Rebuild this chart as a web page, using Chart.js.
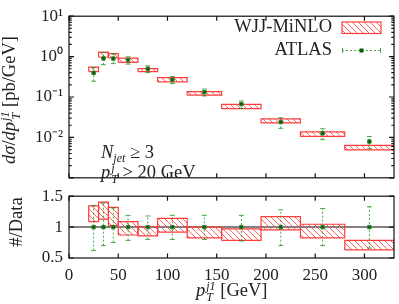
<!DOCTYPE html>
<html lang="en">
<head>
<meta charset="UTF-8">
<title>Leading jet pT, W + 3 jets</title>
<script src="https://cdn.jsdelivr.net/npm/chart.js"></script>
<style>
    body {
        margin: 0;
        width: 399px;
        height: 304px;
        overflow: hidden;
        position: relative;
        background: #fff;
        font-family: 'Liberation Serif', serif;
        color: #222;
    }
    canvas { position: absolute; left: 0; }
    #topChart { top: 0; }
    #ratioChart { top: 180px; }
    .txt {
        position: absolute;
        font-size: 18.5px;
        line-height: 18px;
        white-space: nowrap;
    }
    .ss {
        display: inline-flex;
        flex-direction: column;
        vertical-align: middle;
        font-size: 12px;
        line-height: 11px;
        font-style: italic;
        margin-left: 1px;
    }
    .sub { font-size: 12px; font-style: italic; position: relative; top: 4px; }
    .rot {
        position: absolute;
        width: 220px;
        height: 20px;
        line-height: 20px;
        text-align: center;
        font-size: 18.5px;
        white-space: nowrap;
        transform: rotate(-90deg);
    }
</style>
</head>
<body>
<canvas id="topChart" width="399" height="194"></canvas>
<canvas id="ratioChart" width="399" height="124"></canvas>

<div class="txt" style="right:67px; top:17px;">WJJ-MiNLO</div>
<div class="txt" style="right:67px; top:40px;">ATLAS</div>
<div class="txt" style="left:101px; top:143px;"><i>N</i><span class="sub">jet</span> &ge; 3</div>
<div class="txt" style="left:101px; top:163px;"><i>p</i><span class="ss"><span>j</span><span>T</span></span> &gt; 20 GeV</div>
<div class="rot" style="left:-101px; top:90px;"><i>d&sigma;</i>/<i>dp</i><span class="ss"><span>j1</span><span>T</span></span> [pb/GeV]</div>
<div class="rot" style="left:-94px; top:212px;">#/Data</div>
<div class="txt" style="left:196px; top:281px;"><i>p</i><span class="ss"><span>j1</span><span>T</span></span> [GeV]</div>

<script>
// bins of leading jet pT [GeV]
const binEdges = [20, 30, 40, 50, 70, 90, 120, 155, 195, 235, 280, 330];
const dataX = [25, 35, 45, 60, 80, 105, 137.5, 175, 215, 257.5, 305];

// WJJ-MiNLO band [pb/GeV]
const mcLo = [0.426, 0.965, 0.93, 0.72, 0.426, 0.238, 0.111, 0.0515, 0.0228, 0.0106, 0.00492];
const mcHi = [0.55, 1.285, 1.18, 0.917, 0.505, 0.303, 0.136, 0.0655, 0.0289, 0.01365, 0.00635];

// ATLAS data [pb/GeV]
const atlas = [0.397, 0.9, 0.895, 0.83, 0.5, 0.269, 0.132, 0.067, 0.024, 0.0126, 0.0079];
const atlasLo = [0.246, 0.63, 0.671, 0.652, 0.4, 0.215, 0.106, 0.0519, 0.0168, 0.0088, 0.0052];
const atlasHi = [0.536, 1.25, 1.17, 0.99, 0.59, 0.32, 0.157, 0.0797, 0.0307, 0.0164, 0.0105];

// ratio panel
const ratioLo = [1.088, 1.128, 1.026, 0.872, 0.857, 0.92, 0.825, 0.785, 0.955, 0.825, 0.63];
const ratioHi = [1.343, 1.405, 1.32, 1.088, 1.01, 1.14, 1.0, 0.97, 1.17, 1.046, 0.785];
const ratioErrLo = [0.62, 0.70, 0.75, 0.785, 0.80, 0.80, 0.80, 0.775, 0.70, 0.70, 0.66];
const ratioErrHi = [1.35, 1.39, 1.31, 1.19, 1.18, 1.19, 1.19, 1.19, 1.28, 1.30, 1.33];

const xTicks = [0, 50, 100, 150, 200, 250, 300];
const logLabels = {'1': '10\u00B9', '0': '10\u2070', '-1': '10\u207B\u00B9', '-2': '10\u207B\u00B2'};
const ratioTicks = [0.5, 1, 1.5];

const RED = 'rgb(255,60,60)';
const GREEN = 'rgba(20,140,20,0.75)';
const DARKGREEN = 'rgb(0,95,0)';
const FONT = {family: "'Liberation Serif', serif", size: 17};

function makeHatch(ctx) {
    const c = document.createElement('canvas');
    c.width = 6; c.height = 6;
    const g = c.getContext('2d');
    g.strokeStyle = 'rgba(255,70,70,0.85)';
    g.lineWidth = 1;
    g.beginPath();
    [-6, 0, 6].forEach(k => { g.moveTo(k, 0); g.lineTo(k + 6, 6); });
    g.stroke();
    return ctx.createPattern(c, 'repeat');
}

function boxSets(lo, hi, pattern) {
    return lo.map((l, i) => ({
        data: [
            {x: binEdges[i], y: l}, {x: binEdges[i + 1], y: l},
            {x: binEdges[i + 1], y: hi[i]}, {x: binEdges[i], y: hi[i]},
            {x: binEdges[i], y: l}
        ],
        borderColor: RED, borderWidth: 1.2, backgroundColor: pattern,
        fill: 'shape', pointRadius: 0, tension: 0
    }));
}

function errSets(lo, hi) {
    return dataX.map((x, i) => ({
        data: [{x: x, y: lo[i]}, {x: x, y: hi[i]}],
        borderColor: GREEN, borderWidth: 1, borderDash: [2, 2],
        pointStyle: 'line', pointRadius: 2.5, pointBorderColor: GREEN, pointBorderWidth: 1,
        fill: false
    }));
}

function markerSet(vals) {
    return {
        data: dataX.map((x, i) => ({x: x, y: vals[i]})),
        showLine: false, pointStyle: 'rect', pointRadius: 2.4,
        pointBackgroundColor: DARKGREEN, pointBorderColor: 'rgb(50,130,50)', pointBorderWidth: 1
    };
}

// frame with inward ticks, gnuplot style
const framePlugin = {
    id: 'frame',
    afterDraw(chart, args, opts) {
        const {ctx, chartArea: a, scales} = chart;
        ctx.save();
        ctx.strokeStyle = '#111';
        ctx.lineWidth = 1.2;
        ctx.strokeRect(a.left, a.top, a.right - a.left, a.bottom - a.top);
        ctx.beginPath();
        xTicks.forEach(v => {
            const p = scales.x.getPixelForValue(v);
            ctx.moveTo(p, a.bottom); ctx.lineTo(p, a.bottom - 4.5);
            ctx.moveTo(p, a.top); ctx.lineTo(p, a.top + 4.5);
        });
        opts.yTicks.forEach(([v, len]) => {
            const p = scales.y.getPixelForValue(v);
            ctx.moveTo(a.left, p); ctx.lineTo(a.left + len, p);
            ctx.moveTo(a.right, p); ctx.lineTo(a.right - len, p);
        });
        ctx.stroke();
        ctx.restore();
    }
};

const legendPlugin = {
    id: 'legendSymbols',
    afterDraw(chart, args, opts) {
        const ctx = chart.ctx;
        ctx.save();
        ctx.fillStyle = opts.pattern;
        ctx.fillRect(342, 22, 39, 11.5);
        ctx.strokeStyle = RED; ctx.lineWidth = 1.2;
        ctx.strokeRect(342, 22, 39, 11.5);
        ctx.strokeStyle = GREEN; ctx.lineWidth = 1;
        ctx.setLineDash([2, 2]);
        ctx.beginPath(); ctx.moveTo(342, 50.5); ctx.lineTo(381, 50.5); ctx.stroke();
        ctx.setLineDash([]);
        ctx.beginPath();
        ctx.moveTo(342.5, 48); ctx.lineTo(342.5, 53);
        ctx.moveTo(380.5, 48); ctx.lineTo(380.5, 53);
        ctx.stroke();
        ctx.fillStyle = DARKGREEN;
        ctx.fillRect(359.5, 48.5, 4, 4);
        ctx.restore();
    }
};

const logTickMarks = [];
for (let e = -3; e <= 1; e++) {
    for (let m = 1; m <= 9; m++) {
        const v = m * Math.pow(10, e);
        if (v > 10.0001) break;
        logTickMarks.push([v, m === 1 ? 5 : 2.7]);
    }
}

const topCtx = document.getElementById('topChart').getContext('2d');
const topHatch = makeHatch(topCtx);

new Chart(topCtx, {
    type: 'line',
    data: {
        datasets: [
            markerSet(atlas),
            ...errSets(atlasLo, atlasHi),
            ...boxSets(mcLo, mcHi, topHatch)
        ]
    },
    options: {
        responsive: false,
        animation: false,
        events: [],
        layout: {padding: {top: 12.5, right: 2.3, left: 0, bottom: 0}},
        plugins: {
            legend: {display: false},
            tooltip: {enabled: false},
            frame: {yTicks: logTickMarks},
            legendSymbols: {pattern: topHatch}
        },
        scales: {
            x: {
                type: 'linear', min: 0, max: 330,
                ticks: {display: false},
                grid: {display: false, drawTicks: false},
                border: {display: false},
                afterFit: s => { s.height = 1; }
            },
            y: {
                type: 'logarithmic', min: 0.001, max: 10,
                ticks: {
                    font: FONT, color: '#222', padding: 6, autoSkip: false,
                    callback: v => {
                        const e = Math.round(Math.log10(v));
                        if (Math.abs(v / Math.pow(10, e) - 1) > 1e-6) return '';
                        return logLabels[String(e)] || '';
                    }
                },
                grid: {display: false, drawTicks: false},
                border: {display: false},
                afterFit: s => { s.width = 69; }
            }
        }
    },
    plugins: [framePlugin, legendPlugin]
});

const ratioCtx = document.getElementById('ratioChart').getContext('2d');
const ratioHatch = makeHatch(ratioCtx);

new Chart(ratioCtx, {
    type: 'line',
    data: {
        datasets: [
            markerSet(dataX.map(() => 1)),
            ...errSets(ratioErrLo, ratioErrHi),
            ...boxSets(ratioLo, ratioHi, ratioHatch),
            {
                data: [{x: 0, y: 1}, {x: 330, y: 1}],
                borderColor: 'rgb(130,130,130)', borderWidth: 2, pointRadius: 0, fill: false
            }
        ]
    },
    options: {
        responsive: false,
        animation: false,
        events: [],
        layout: {padding: {top: 13, right: 2.3, left: 0, bottom: 0}},
        plugins: {
            legend: {display: false},
            tooltip: {enabled: false},
            frame: {yTicks: ratioTicks.map(v => [v, 5])}
        },
        scales: {
            x: {
                type: 'linear', min: 0, max: 330,
                ticks: {
                    font: FONT, color: '#222', padding: 7, stepSize: 50,
                    includeBounds: false, maxRotation: 0,
                    callback: v => xTicks.includes(v) ? String(v) : ''
                },
                grid: {display: false, drawTicks: false},
                border: {display: false},
                afterFit: s => { s.height = 46; }
            },
            y: {
                type: 'linear', min: 0.5, max: 1.5,
                ticks: {
                    font: FONT, color: '#222', padding: 6, stepSize: 0.5,
                    callback: v => ratioTicks.includes(v) ? (v === 1 ? '1' : v.toFixed(1)) : ''
                },
                grid: {display: false, drawTicks: false},
                border: {display: false},
                afterFit: s => { s.width = 69; }
            }
        }
    },
    plugins: [framePlugin]
});
</script>
</body>
</html>
